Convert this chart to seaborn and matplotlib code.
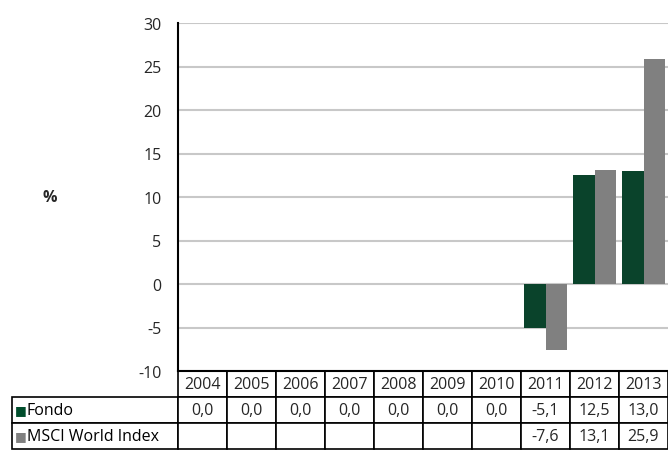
import numpy as np
import pandas as pd
import seaborn as sns
import matplotlib.pyplot as plt

years = ["2004", "2005", "2006", "2007", "2008", "2009", "2010", "2011", "2012", "2013"]
fondo = [0.0, 0.0, 0.0, 0.0, 0.0, 0.0, 0.0, -5.1, 12.5, 13.0]
msci = [np.nan, np.nan, np.nan, np.nan, np.nan, np.nan, np.nan, -7.6, 13.1, 25.9]
series = ["Fondo", "MSCI World Index"]
colors = ["#004d2c", "#808080"]

df = pd.DataFrame({
    "year": years * 2,
    "value": fondo + msci,
    "serie": [series[0]] * len(years) + [series[1]] * len(years),
})

sns.set_theme(style="white")
plt.rcParams['font.family'] = ['Open Sans', 'DejaVu Sans']
fs = 11.5

fig = plt.figure(figsize=(6.68, 4.52), dpi=100)
ax = fig.add_axes([178 / 668, 1 - 372 / 452, 490 / 668, 348 / 452])

sns.barplot(data=df.dropna(), x="year", y="value", hue="serie", order=years,
            hue_order=series, palette=colors, width=0.88, linewidth=0,
            ax=ax, legend=False)

ax.set_xlim(-0.5, 9.5)
ax.set_ylim(-10, 30)
ax.set_yticks(range(-10, 31, 5))
ax.set_yticklabels([str(v) for v in range(-10, 31, 5)], fontsize=fs)
ax.yaxis.grid(True, color="#c8c8c8", linewidth=1.5)
ax.set_axisbelow(True)
ax.tick_params(axis="y", length=3, color="#c8c8c8", width=1.5, pad=9)
ax.set_xticks([])
ax.set_xlabel("")
ax.set_ylabel("%", rotation=0, fontsize=fs, fontweight="bold", labelpad=0,
              va="center")
ax.yaxis.set_label_coords(-0.262, 0.5)
for side in ["top", "right"]:
    ax.spines[side].set_visible(False)
ax.spines["left"].set_color("black")
ax.spines["left"].set_linewidth(1.5)
ax.spines["bottom"].set_color("black")
ax.spines["bottom"].set_linewidth(1.5)


def fmt(v):
    if np.isnan(v):
        return ""
    return f"{v:.1f}".replace(".", ",")


cells = [[""] + years,
         [""] + [fmt(v) for v in fondo],
         [""] + [fmt(v) for v in msci]]
x0 = (12 - 178) / 490
tbl = ax.table(cellText=cells, cellLoc="center",
               colWidths=[166 / 490] + [49 / 490] * len(years),
               bbox=[x0, -78 / 348, 656 / 490, 78 / 348])
tbl.auto_set_font_size(False)
tbl.set_fontsize(fs)
for (r, c), cell in tbl.get_celld().items():
    cell.set_linewidth(1.2)
    cell.set_edgecolor("black")
    if r == 0 and c == 0:
        cell.visible_edges = ""

row_h = 26 / 348
for i, name in enumerate(series):
    yc = -row_h * (i + 1.5)
    ax.text(x0 + 0.005, yc, "■", color=colors[i], fontsize=9, va="center",
            ha="left", transform=ax.transAxes, family=["DejaVu Sans"])
    ax.text(x0 + 0.03, yc, name, color="black", fontsize=fs, va="center",
            ha="left", transform=ax.transAxes)

fig.savefig("out.png", dpi=100)
